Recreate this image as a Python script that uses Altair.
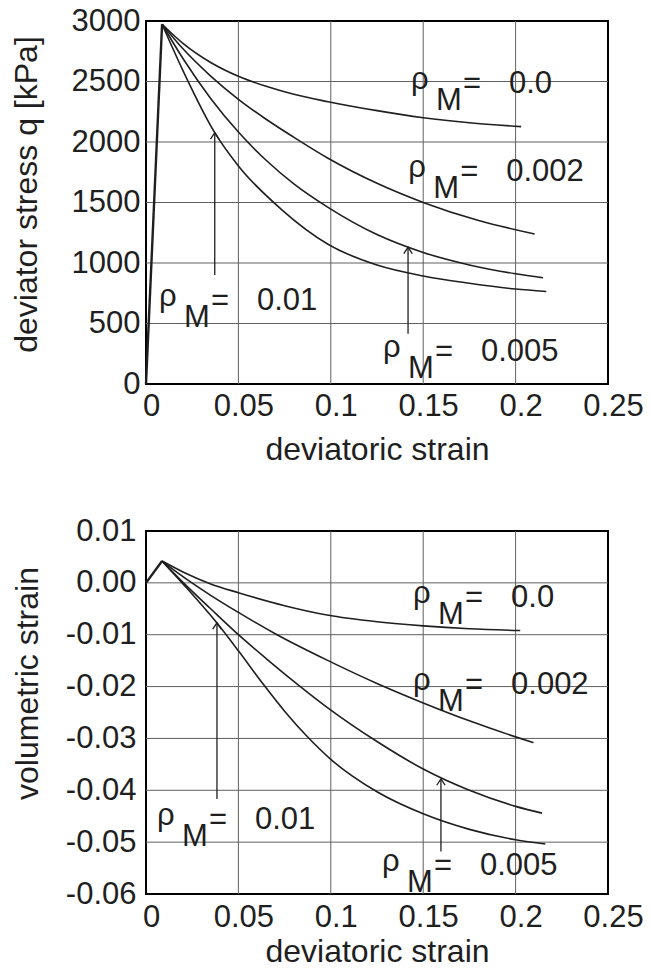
import altair as alt
import pandas as pd

FONT = "Liberation Sans"
INK = "#1f1f1f"
GRID = "#606060"

rho_labels = ["0.0", "0.002", "0.005", "0.01"]

x_ticks = [0, 0.05, 0.1, 0.15, 0.2, 0.25]
x_grid = [0.05, 0.1, 0.15, 0.2]
q_ticks = [0, 500, 1000, 1500, 2000, 2500, 3000]
q_grid = [500, 1000, 1500, 2000, 2500]
v_ticks = [-0.06, -0.05, -0.04, -0.03, -0.02, -0.01, 0.0, 0.01]
v_grid = [-0.05, -0.04, -0.03, -0.02, -0.01, 0.0]

# elastic branch (origin -> peak)
elastic_strain = [0.0, 0.0087]
elastic_q = [0, 2973]
elastic_v = [0.0, 0.0042]

# softening branches, deviator stress q [kPa]
strain_q_0 = [0.0087, 0.02, 0.035, 0.05, 0.065, 0.08, 0.0985, 0.125, 0.15, 0.175, 0.203]
q_0 = [2973, 2815, 2657, 2543, 2460, 2394, 2333, 2259, 2201, 2159, 2127]
strain_q_002 = [0.0087, 0.02, 0.035, 0.05, 0.065, 0.0823, 0.0985, 0.125, 0.15, 0.18, 0.2103]
q_002 = [2973, 2770, 2545, 2353, 2188, 2017, 1866, 1659, 1501, 1351, 1240]
strain_q_005 = [0.0087, 0.02, 0.035, 0.05, 0.065, 0.08, 0.0985, 0.125, 0.15, 0.175, 0.2, 0.2148]
q_005 = [2973, 2690, 2360, 2082, 1849, 1654, 1460, 1235, 1087, 984, 911, 878]
strain_q_01 = [0.0087, 0.02, 0.0372, 0.05, 0.0732, 0.0985, 0.125, 0.15, 0.175, 0.2, 0.2166]
q_01 = [2973, 2590, 2077, 1802, 1444, 1155, 983, 893, 833, 785, 765]

# softening branches, volumetric strain
strain_v_0 = [0.0087, 0.02, 0.035, 0.05, 0.075, 0.098, 0.125, 0.15, 0.175, 0.2025]
v_0 = [0.0042, 0.0021, -0.0002, -0.0019, -0.0044, -0.0062, -0.0075, -0.0083, -0.00885, -0.0092]
strain_v_002 = [0.0087, 0.02, 0.035, 0.05, 0.0709, 0.098, 0.125, 0.15, 0.175, 0.2, 0.2097]
v_002 = [0.0042, 0.0012, -0.0024, -0.0057, -0.0100, -0.0149, -0.0194, -0.02315, -0.0266, -0.0297, -0.0308]
strain_v_005 = [0.0087, 0.02, 0.035, 0.05, 0.065, 0.0835, 0.098, 0.125, 0.15, 0.175, 0.2, 0.2143]
v_005 = [0.0042, 0.0001, -0.0050, -0.0100, -0.0146, -0.0200, -0.0240, -0.0306, -0.0359, -0.0400, -0.0431, -0.0444]
strain_v_01 = [0.0087, 0.02, 0.0384, 0.05, 0.0637, 0.075, 0.0871, 0.1, 0.125, 0.15, 0.175, 0.2, 0.2161]
v_01 = [0.0042, -0.0002, -0.00775, -0.0131, -0.01967, -0.02475, -0.02959, -0.03404, -0.04029, -0.04454, -0.04754, -0.04954, -0.05035]

# annotation arrows (x, tail value, tip value)
arrow_q_x = [0.0372, 0.1418]
arrow_q_from = [901, 416]
arrow_q_to = [2077, 1130]
arrow_v_x = [0.0384, 0.1596]
arrow_v_from = [-0.0417, -0.0518]
arrow_v_to = [-0.0077, -0.0378]

# rho_M labels (anchor = left of rho, baseline of value)
label_q_x = [0.1434, 0.1419, 0.1282, 0.0070]
label_q_y = [2405, 1678, 190, 612]
label_v_x = [0.1445, 0.1445, 0.1277, 0.0059]
label_v_y = [-0.0047, -0.0214, -0.0563, -0.0475]


def curves_frame(strains, vals):
    rows = []
    for rho, xs, ys in zip(rho_labels, strains, vals):
        for x, y in zip(xs, ys):
            rows.append({"rho": rho, "strain": x, "val": y})
    return pd.DataFrame(rows)


def panel(curves, elastic, arrows, labels, y_grid, y_title, y_domain, y_ticks,
          y_axis_fmt, ylab_pad, ytitle_x, ytitle_y, xlab_pad, xtitle_y):
    xscale = alt.Scale(domain=[0, 0.25], nice=False, zero=False)
    yscale = alt.Scale(domain=y_domain, nice=False, zero=False)
    xaxis = alt.Axis(values=x_ticks, format="~g", title="deviatoric strain",
                     labelPadding=xlab_pad, labelOffset=5, labelFlush=False,
                     titleX=231, titleY=xtitle_y, titleBaseline="alphabetic",
                     titleAlign="center")
    yaxis = alt.Axis(values=y_ticks, title=y_title, labelPadding=ylab_pad,
                     titleX=ytitle_x, titleY=ytitle_y, titleBaseline="alphabetic",
                     titleAlign="center", titleAngle=270, **y_axis_fmt)

    xe = alt.X("strain:Q", scale=xscale, axis=xaxis, title="deviatoric strain")
    ye = alt.Y("val:Q", scale=yscale, axis=yaxis, title=y_title)

    gx = alt.Chart(pd.DataFrame({"strain": x_grid})).mark_rule(
        color=GRID, strokeWidth=1).encode(x=xe)
    gy = alt.Chart(pd.DataFrame({"val": y_grid})).mark_rule(
        color=GRID, strokeWidth=1).encode(y=ye)

    lines = alt.Chart(curves).mark_line(
        color=INK, strokeWidth=1.6, interpolate="monotone").encode(
        x=xe, y=ye, detail="rho:N")
    el = alt.Chart(elastic).mark_line(color=INK, strokeWidth=2.4).encode(x=xe, y=ye)

    arr = alt.Chart(arrows).mark_rule(color=INK, strokeWidth=1.3).encode(
        x=xe, y=ye, y2="val2:Q")
    head = alt.Chart(arrows).mark_point(
        shape="M-1,1.5L0,0L1,1.5", filled=False, size=72, color=INK,
        strokeWidth=1.3, opacity=1).encode(
        x=xe, y=alt.Y("val2:Q", scale=yscale, axis=yaxis, title=y_title))

    tbase = dict(font=FONT, fontSize=31, color=INK, align="left", baseline="alphabetic")
    t_rho = alt.Chart(labels).mark_text(text="ρ", dy=-4, **tbase).encode(x=xe, y=ye)
    t_m = alt.Chart(labels).mark_text(text="M", dx=25, dy=17, **tbase).encode(x=xe, y=ye)
    t_eq = alt.Chart(labels).mark_text(text="=", dx=52, **tbase).encode(x=xe, y=ye)
    t_val = alt.Chart(labels).mark_text(dx=98, **tbase).encode(x=xe, y=ye, text="rho:N")

    return alt.layer(gx, gy, el, lines, arr, head, t_rho, t_m, t_eq, t_val).properties(
        width=462, height=363)


curves_q = curves_frame([strain_q_0, strain_q_002, strain_q_005, strain_q_01],
                        [q_0, q_002, q_005, q_01])
curves_v = curves_frame([strain_v_0, strain_v_002, strain_v_005, strain_v_01],
                        [v_0, v_002, v_005, v_01])
elastic_qdf = pd.DataFrame({"strain": elastic_strain, "val": elastic_q})
elastic_vdf = pd.DataFrame({"strain": elastic_strain, "val": elastic_v})
arrows_q = pd.DataFrame({"strain": arrow_q_x, "val": arrow_q_from, "val2": arrow_q_to})
arrows_v = pd.DataFrame({"strain": arrow_v_x, "val": arrow_v_from, "val2": arrow_v_to})
labels_q = pd.DataFrame({"strain": label_q_x, "val": label_q_y, "rho": rho_labels})
labels_v = pd.DataFrame({"strain": label_v_x, "val": label_v_y, "rho": rho_labels})

top = panel(curves_q, elastic_qdf, arrows_q, labels_q, q_grid,
            "deviator stress q [kPa]", [0, 3000], q_ticks, {"format": "d"},
            6, -110, 173, 7, 75)
bottom = panel(curves_v, elastic_vdf, arrows_v, labels_v, v_grid,
               "volumetric strain", [-0.06, 0.01], v_ticks,
               {"labelExpr": "replace(format(datum.value, '.2f'), '\u2212', '-')"},
               10, -109, 152, 8, 67)

chart = alt.vconcat(top, bottom, spacing=147, bounds="flush").properties(
    padding={"left": 9, "top": 4, "right": 5, "bottom": 5},
    background="white",
).configure_view(stroke="black", strokeWidth=2).configure_axis(
    domain=False, ticks=False, grid=False,
    labelFont=FONT, labelFontSize=31, labelColor=INK,
    titleFont=FONT, titleFontSize=32, titleFontWeight="normal", titleColor=INK,
)

chart.save("out.html", embed_options={"renderer": "svg", "actions": False})
